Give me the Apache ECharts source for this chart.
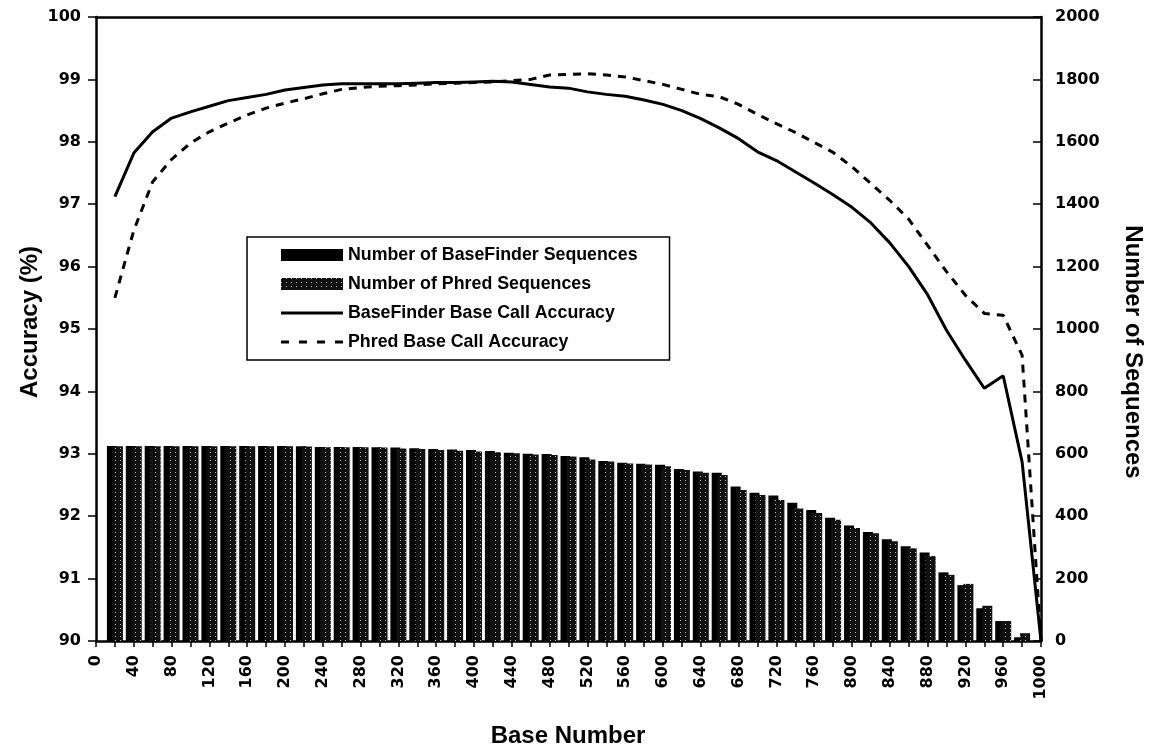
<!DOCTYPE html>
<html>
<head>
<meta charset="utf-8">
<script src="https://cdn.jsdelivr.net/npm/echarts@6/dist/echarts.min.js"></script>
<style>
html,body{margin:0;padding:0;background:#fff;}
#chart{width:1151px;height:749px;}
</style>
</head>
<body>
<div id="chart"></div>
<script>
// Base positions (x values)
var basePositions = [20,40,60,80,100,120,140,160,180,200,220,240,260,280,300,320,340,360,380,400,
  420,440,460,480,500,520,540,560,580,600,620,640,660,680,700,720,740,760,780,800,
  820,840,860,880,900,920,940,960,980,1000];

// Number of sequences (right axis)
var baseFinderSeqs = [625,625,625,625,625,625,625,625,625,625,624,622,622,622,621,620,618,615,614,612,
  609,603,600,599,593,589,577,571,568,565,551,543,539,495,475,466,443,420,395,370,
  349,326,304,284,220,179,105,64,12,0];
var phredSeqs = [624,624,624,624,624,624,624,624,624,624,623,621,621,621,620,617,615,612,610,607,
  605,602,598,596,591,582,575,569,566,560,548,539,532,484,468,452,425,410,389,362,
  345,320,297,272,212,183,113,64,25,0];

// Accuracy (%) (left axis)
var baseFinderAcc = [97.12,97.82,98.16,98.38,98.48,98.57,98.66,98.71,98.76,98.83,98.87,98.91,98.93,98.93,98.93,98.93,98.94,98.95,98.95,98.96,
  98.97,98.96,98.92,98.88,98.86,98.80,98.76,98.73,98.67,98.60,98.50,98.37,98.22,98.05,97.84,97.70,97.52,97.34,97.15,96.95,
  96.70,96.38,96.00,95.55,94.98,94.50,94.05,94.25,92.87,90.0];
var phredAcc = [95.50,96.58,97.36,97.72,97.98,98.16,98.30,98.43,98.54,98.62,98.69,98.77,98.84,98.87,98.89,98.90,98.91,98.93,98.94,98.95,
  98.96,98.98,99.00,99.07,99.08,99.09,99.07,99.04,98.98,98.92,98.84,98.76,98.72,98.60,98.44,98.29,98.15,97.99,97.83,97.60,
  97.33,97.06,96.76,96.34,95.92,95.54,95.25,95.22,94.58,90.0];

var seriesNames = ['Number of BaseFinder Sequences','Number of Phred Sequences','BaseFinder Base Call Accuracy','Phred Base Call Accuracy'];

function pairs(vals){ return basePositions.map(function(x,i){ return [x, vals[i]]; }); }

var tickFont = 'DejaVu Sans';
var titleFont = 'Liberation Sans';

var solidIcon = 'path://M0,0h62v3h-62z';
var dashIcon = 'path://M0,0h8v3h-8z M18,0h8v3h-8z M36,0h8v3h-8z M54,0h8v3h-8z';

var chart = echarts.init(document.getElementById('chart'), null, {renderer:'canvas'});
chart.setOption({
  backgroundColor:'#fff',
  animation:false,
  grid:{left:96, right:110, top:17, bottom:108, containLabel:false},
  legend:{
    orient:'vertical', left:247, top:237,
    padding:[9,32,9,34],
    itemWidth:62, itemHeight:12, itemGap:11, itemTextGap:5,
    symbolKeepAspect:true,
    borderColor:'#000', borderWidth:1.5, backgroundColor:'#fff',
    textStyle:{fontFamily:titleFont, fontWeight:'bold', fontSize:17.8, color:'#000'},
    data:[
      {name:seriesNames[0], icon:'rect'},
      {name:seriesNames[1], icon:'rect'},
      {name:seriesNames[2], icon:solidIcon, itemStyle:{color:'#000', borderWidth:0}},
      {name:seriesNames[3], icon:dashIcon, itemStyle:{color:'#000', borderWidth:0}}
    ]
  },
  xAxis:[{
    type:'value', min:0, max:1000, interval:20, position:'bottom',
    axisLine:{show:true, onZero:false, lineStyle:{color:'#000', width:2.5}},
    axisTick:{show:true, length:6, lineStyle:{color:'#000', width:1.5}},
    splitLine:{show:false},
    axisLabel:{rotate:90, margin:14, color:'#000', fontFamily:tickFont, fontWeight:'bold', fontSize:16,
      showMinLabel:true, showMaxLabel:true,
      formatter:function(v){ return (v % 40 === 0) ? String(v) : ''; }}
  },{
    type:'value', min:0, max:1000, position:'top',
    axisLine:{show:true, onZero:false, lineStyle:{color:'#000', width:2.5}},
    axisTick:{show:false}, axisLabel:{show:false}, splitLine:{show:false}
  }],
  yAxis:[{
    type:'value', min:90, max:100, interval:1, position:'left',
    axisLine:{show:true, onZero:false, lineStyle:{color:'#000', width:2.5}},
    axisTick:{show:true, length:8, lineStyle:{color:'#000', width:1.5}},
    splitLine:{show:false},
    axisLabel:{margin:15, color:'#000', fontFamily:tickFont, fontWeight:'bold', fontSize:16,
      formatter:function(v){ return String(v); }}
  },{
    type:'value', min:0, max:2000, interval:200, position:'right',
    axisLine:{show:true, onZero:false, lineStyle:{color:'#000', width:2.5}},
    axisTick:{show:true, inside:true, length:8, lineStyle:{color:'#000', width:1.5}},
    splitLine:{show:false},
    axisLabel:{margin:14, color:'#000', fontFamily:tickFont, fontWeight:'bold', fontSize:16,
      formatter:function(v){ return String(v); }}
  }],
  graphic:[
    {type:'text', x:30, y:322, rotation:Math.PI/2,
      style:{text:'Accuracy (%)', fill:'#000', font:'bold 24px "Liberation Sans"', textAlign:'center', textVerticalAlign:'middle', align:'center', verticalAlign:'middle'}},
    {type:'text', x:1133, y:352, rotation:-Math.PI/2,
      style:{text:'Number of Sequences', fill:'#000', font:'bold 24px "Liberation Sans"', textAlign:'center', textVerticalAlign:'middle', align:'center', verticalAlign:'middle'}},
    {type:'text', x:568, y:736,
      style:{text:'Base Number', fill:'#000', font:'bold 24px "Liberation Sans"', textAlign:'center', textVerticalAlign:'middle', align:'center', verticalAlign:'middle'}}
  ],
  series:[
    {name:seriesNames[0], type:'bar', xAxisIndex:0, yAxisIndex:1, data:pairs(baseFinderSeqs),
      barWidth:10, barGap:'-40%', itemStyle:{color:'#000'}, z:2},
    {name:seriesNames[1], type:'bar', xAxisIndex:0, yAxisIndex:1, data:pairs(phredSeqs),
      barWidth:10, barGap:'-40%',
      itemStyle:{color:'#111', decal:{symbol:'rect', symbolSize:1, color:'rgba(255,255,255,0.7)', dashArrayX:[1,4], dashArrayY:[1,3], rotation:0}},
      z:2},
    {name:seriesNames[2], type:'line', xAxisIndex:0, yAxisIndex:0, data:pairs(baseFinderAcc),
      symbol:'none', lineStyle:{color:'#000', width:3, type:'solid'}, itemStyle:{color:'#000'}, z:4},
    {name:seriesNames[3], type:'line', xAxisIndex:0, yAxisIndex:0, data:pairs(phredAcc),
      symbol:'none', lineStyle:{color:'#000', width:3, type:[8,7]}, itemStyle:{color:'#000'}, z:4}
  ]
});
</script>
</body>
</html>
